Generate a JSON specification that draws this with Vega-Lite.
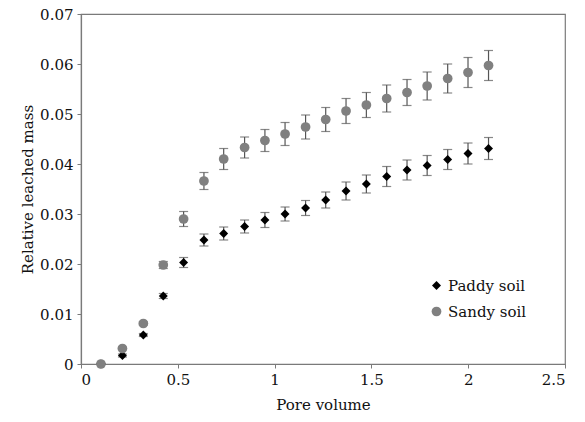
{
  "$schema": "https://vega.github.io/schema/vega-lite/v6.json",
  "width": 484,
  "height": 350,
  "autosize": {"type": "none"},
  "padding": {"left": 81, "top": 14, "right": 20, "bottom": 58},
  "background": "white",
  "config": {
    "font": "DejaVu Serif",
    "view": {"stroke": "#7a7a7a", "strokeWidth": 1.2},
    "legend": {"labelFont": "DejaVu Serif"},
    "axis": {
      "grid": false,
      "domainColor": "#7a7a7a",
      "domainWidth": 1.2,
      "tickColor": "#7a7a7a",
      "tickSize": 4,
      "labelFont": "DejaVu Serif",
      "labelFontSize": 15,
      "labelColor": "#111",
      "titleFont": "DejaVu Serif",
      "titleFontSize": 15,
      "titleFontWeight": "normal",
      "titleColor": "#111"
    }
  },
  "data": {
    "values": [
      {"soil": "Paddy soil", "x": 0.103, "y": 0.0, "err": 0.0},
      {"soil": "Paddy soil", "x": 0.214, "y": 0.0017, "err": 0.0003},
      {"soil": "Paddy soil", "x": 0.322, "y": 0.0058, "err": 0.0003},
      {"soil": "Paddy soil", "x": 0.425, "y": 0.0136, "err": 0.0005},
      {"soil": "Paddy soil", "x": 0.53, "y": 0.0203, "err": 0.001},
      {"soil": "Paddy soil", "x": 0.635, "y": 0.0248, "err": 0.0012},
      {"soil": "Paddy soil", "x": 0.737, "y": 0.0261, "err": 0.0013},
      {"soil": "Paddy soil", "x": 0.845, "y": 0.0275, "err": 0.0013},
      {"soil": "Paddy soil", "x": 0.95, "y": 0.0288, "err": 0.0015},
      {"soil": "Paddy soil", "x": 1.054, "y": 0.03, "err": 0.0014},
      {"soil": "Paddy soil", "x": 1.16, "y": 0.0312, "err": 0.0015},
      {"soil": "Paddy soil", "x": 1.264, "y": 0.0328, "err": 0.0016},
      {"soil": "Paddy soil", "x": 1.369, "y": 0.0346, "err": 0.0018},
      {"soil": "Paddy soil", "x": 1.474, "y": 0.036, "err": 0.0018},
      {"soil": "Paddy soil", "x": 1.579, "y": 0.0375, "err": 0.002},
      {"soil": "Paddy soil", "x": 1.684, "y": 0.0388, "err": 0.002},
      {"soil": "Paddy soil", "x": 1.788, "y": 0.0397, "err": 0.002},
      {"soil": "Paddy soil", "x": 1.894, "y": 0.0409, "err": 0.002},
      {"soil": "Paddy soil", "x": 1.999, "y": 0.0421, "err": 0.0021},
      {"soil": "Paddy soil", "x": 2.105, "y": 0.0431, "err": 0.0022},
      {"soil": "Sandy soil", "x": 0.103, "y": 0.0, "err": 0.0},
      {"soil": "Sandy soil", "x": 0.214, "y": 0.0031, "err": 0.0002},
      {"soil": "Sandy soil", "x": 0.322, "y": 0.0081, "err": 0.0003},
      {"soil": "Sandy soil", "x": 0.425, "y": 0.0198, "err": 0.0007},
      {"soil": "Sandy soil", "x": 0.53, "y": 0.029, "err": 0.0015},
      {"soil": "Sandy soil", "x": 0.635, "y": 0.0366, "err": 0.0017},
      {"soil": "Sandy soil", "x": 0.737, "y": 0.041, "err": 0.0021},
      {"soil": "Sandy soil", "x": 0.845, "y": 0.0433, "err": 0.0021},
      {"soil": "Sandy soil", "x": 0.95, "y": 0.0447, "err": 0.0022},
      {"soil": "Sandy soil", "x": 1.054, "y": 0.046, "err": 0.0023},
      {"soil": "Sandy soil", "x": 1.16, "y": 0.0474, "err": 0.0024},
      {"soil": "Sandy soil", "x": 1.264, "y": 0.0489, "err": 0.0024},
      {"soil": "Sandy soil", "x": 1.369, "y": 0.0506, "err": 0.0025},
      {"soil": "Sandy soil", "x": 1.474, "y": 0.0518, "err": 0.0025},
      {"soil": "Sandy soil", "x": 1.579, "y": 0.0531, "err": 0.0027},
      {"soil": "Sandy soil", "x": 1.684, "y": 0.0543, "err": 0.0026},
      {"soil": "Sandy soil", "x": 1.788, "y": 0.0556, "err": 0.0028},
      {"soil": "Sandy soil", "x": 1.894, "y": 0.0571, "err": 0.0029},
      {"soil": "Sandy soil", "x": 1.999, "y": 0.0583, "err": 0.003},
      {"soil": "Sandy soil", "x": 2.105, "y": 0.0597, "err": 0.003}
    ]
  },
  "layer": [
    {
      "mark": {
        "type": "errorbar",
        "ticks": {"size": 9, "color": "#555", "thickness": 1.2},
        "rule": {"color": "#555", "strokeWidth": 1.2}
      },
      "encoding": {
        "x": {"field": "x", "type": "quantitative", "title": "Pore volume"},
        "y": {"field": "y", "type": "quantitative", "title": "Relative leached mass"},
        "yError": {"field": "err"}
      }
    },
    {
      "mark": {"type": "point", "filled": true, "opacity": 1},
      "encoding": {
        "x": {
          "field": "x",
          "type": "quantitative",
          "title": "Pore volume",
          "scale": {"domain": [0, 2.5], "nice": false},
          "axis": {"values": [0, 0.5, 1, 1.5, 2, 2.5], "format": ".1~f", "titlePadding": 10, "labelPadding": 4}
        },
        "y": {
          "field": "y",
          "type": "quantitative",
          "title": "Relative leached mass",
          "scale": {"domain": [0, 0.07], "nice": false},
          "axis": {"values": [0, 0.01, 0.02, 0.03, 0.04, 0.05, 0.06, 0.07], "format": ".2~f", "titlePadding": 4, "labelPadding": 4}
        },
        "color": {
          "field": "soil",
          "type": "nominal",
          "scale": {"domain": ["Paddy soil", "Sandy soil"], "range": ["#000000", "#808080"]},
          "legend": {
            "title": null,
            "orient": "none",
            "legendX": 348,
            "legendY": 264,
            "labelFont": "DejaVu Serif",
            "labelFontSize": 15,
            "labelColor": "#111",
            "labelOffset": 4,
            "rowPadding": 10,
            "symbolSize": 90,
            "padding": 0
          }
        },
        "shape": {
          "field": "soil",
          "type": "nominal",
          "scale": {"domain": ["Paddy soil", "Sandy soil"], "range": ["diamond", "circle"]},
          "legend": null
        },
        "size": {
          "field": "soil",
          "type": "nominal",
          "scale": {"domain": ["Paddy soil", "Sandy soil"], "range": [80, 95]},
          "legend": null
        },
        "order": {"field": "soil", "sort": "ascending"}
      }
    }
  ]
}
